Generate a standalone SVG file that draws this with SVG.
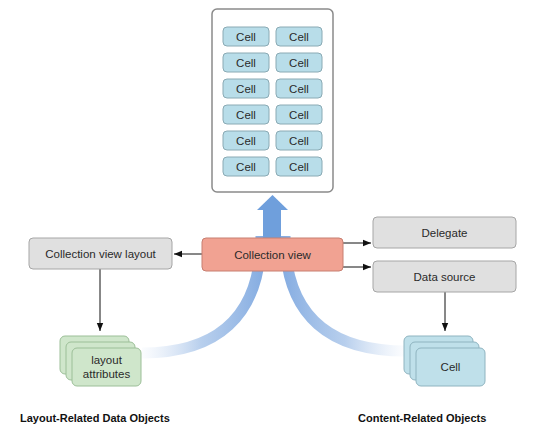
<svg xmlns="http://www.w3.org/2000/svg" width="550" height="442" viewBox="0 0 550 442">
<style>
  text { font-family: "Liberation Sans", Arial, sans-serif; font-size: 11.5px; fill: #2a2a2a; text-anchor: middle; }
  .bold { font-weight: bold; font-size: 11px; fill: #111; text-anchor: start; }
  .gray { fill: #e0e0e0; stroke: #a6a6a6; stroke-width: 1; }
  .cell { fill: #b8dde9; stroke: #8aaab4; stroke-width: 1; }
  .green { fill: #cfe6cb; stroke: #9cbf98; stroke-width: 1; }
  .bcell { fill: #bfe0ea; stroke: #8fb4c0; stroke-width: 1; }
  .conn { stroke: #111; stroke-width: 1; fill: none; marker-end: url(#ah); }
</style>
<defs>
  <marker id="ah" viewBox="0 0 10 10" refX="10" refY="5" markerWidth="8" markerHeight="8" markerUnits="userSpaceOnUse" orient="auto">
    <path d="M0,1 L10,5 L0,9 z" fill="#111"/>
  </marker>
  <linearGradient id="gl" gradientUnits="userSpaceOnUse" x1="262" y1="0" x2="140" y2="0">
    <stop offset="0" stop-color="#80a9e0" stop-opacity="0.95"/>
    <stop offset="0.5" stop-color="#a0bfe7" stop-opacity="0.75"/>
    <stop offset="1" stop-color="#c9daf2" stop-opacity="0.05"/>
  </linearGradient>
  <linearGradient id="gr" gradientUnits="userSpaceOnUse" x1="284" y1="0" x2="406" y2="0">
    <stop offset="0" stop-color="#80a9e0" stop-opacity="0.95"/>
    <stop offset="0.5" stop-color="#a0bfe7" stop-opacity="0.75"/>
    <stop offset="1" stop-color="#c9daf2" stop-opacity="0.05"/>
  </linearGradient>
</defs>

<g id="flow">
  <path d="M261,236 C261,318 215,353 142,353" fill="none" stroke="url(#gl)" stroke-width="11"/>
  <path d="M285,236 C285,318 332,351 406,351" fill="none" stroke="url(#gr)" stroke-width="11"/>
  <rect x="263" y="208" width="18" height="34" fill="#6f9fdc"/>
  <polygon points="272.5,195 288,210 257,210" fill="#6f9fdc"/>
</g>

<g id="cells-panel">
  <rect x="212" y="9" width="121" height="183" rx="5" fill="#fff" stroke="#8a8a8a" stroke-width="1.5"/>
  <g id="cell-1-1"><rect class="cell" x="223" y="27" width="46" height="19" rx="4"/><text x="246" y="40.5">Cell</text></g>
  <g id="cell-1-2"><rect class="cell" x="276" y="27" width="46" height="19" rx="4"/><text x="299" y="40.5">Cell</text></g>
  <g id="cell-2-1"><rect class="cell" x="223" y="53" width="46" height="19" rx="4"/><text x="246" y="66.5">Cell</text></g>
  <g id="cell-2-2"><rect class="cell" x="276" y="53" width="46" height="19" rx="4"/><text x="299" y="66.5">Cell</text></g>
  <g id="cell-3-1"><rect class="cell" x="223" y="79" width="46" height="19" rx="4"/><text x="246" y="92.5">Cell</text></g>
  <g id="cell-3-2"><rect class="cell" x="276" y="79" width="46" height="19" rx="4"/><text x="299" y="92.5">Cell</text></g>
  <g id="cell-4-1"><rect class="cell" x="223" y="105" width="46" height="19" rx="4"/><text x="246" y="118.5">Cell</text></g>
  <g id="cell-4-2"><rect class="cell" x="276" y="105" width="46" height="19" rx="4"/><text x="299" y="118.5">Cell</text></g>
  <g id="cell-5-1"><rect class="cell" x="223" y="131" width="46" height="19" rx="4"/><text x="246" y="144.5">Cell</text></g>
  <g id="cell-5-2"><rect class="cell" x="276" y="131" width="46" height="19" rx="4"/><text x="299" y="144.5">Cell</text></g>
  <g id="cell-6-1"><rect class="cell" x="223" y="157" width="46" height="19" rx="4"/><text x="246" y="170.5">Cell</text></g>
  <g id="cell-6-2"><rect class="cell" x="276" y="157" width="46" height="19" rx="4"/><text x="299" y="170.5">Cell</text></g>
</g>

<g id="connectors">
  <line class="conn" x1="202" y1="254" x2="174" y2="254"/>
  <line class="conn" x1="343" y1="243" x2="371" y2="243"/>
  <line class="conn" x1="343" y1="267" x2="371" y2="267"/>
  <line class="conn" x1="100" y1="269" x2="100" y2="331"/>
  <line class="conn" x1="445" y1="292" x2="445" y2="331"/>
</g>

<g id="collection-view">
  <rect x="202" y="238" width="141" height="33" rx="4" fill="#f1a292" stroke="#c77e70" stroke-width="1"/>
  <text x="272.5" y="258.5">Collection view</text>
</g>

<g id="collection-view-layout">
  <rect class="gray" x="29" y="238" width="143" height="31" rx="4"/>
  <text x="100.5" y="257.5">Collection view layout</text>
</g>

<g id="delegate">
  <rect class="gray" x="373" y="217" width="143" height="31" rx="4"/>
  <text x="444.5" y="236.5">Delegate</text>
</g>

<g id="data-source">
  <rect class="gray" x="373" y="261" width="143" height="31" rx="4"/>
  <text x="444.5" y="280.5">Data source</text>
</g>

<g id="layout-attributes">
  <rect class="green" x="60" y="336" width="69" height="38" rx="5"/>
  <rect class="green" x="66" y="342" width="69" height="38" rx="5"/>
  <rect class="green" x="72" y="348" width="69" height="38" rx="5"/>
  <text x="106.5" y="364">layout</text>
  <text x="106.5" y="378">attributes</text>
</g>

<g id="cell-stack">
  <rect class="bcell" x="404" y="336" width="69" height="38" rx="5"/>
  <rect class="bcell" x="410" y="342" width="69" height="38" rx="5"/>
  <rect class="bcell" x="416" y="348" width="69" height="38" rx="5"/>
  <text x="450.5" y="371">Cell</text>
</g>

<g id="labels">
  <text class="bold" x="20" y="422">Layout-Related Data Objects</text>
  <text class="bold" x="358" y="422">Content-Related Objects</text>
</g>
</svg>
